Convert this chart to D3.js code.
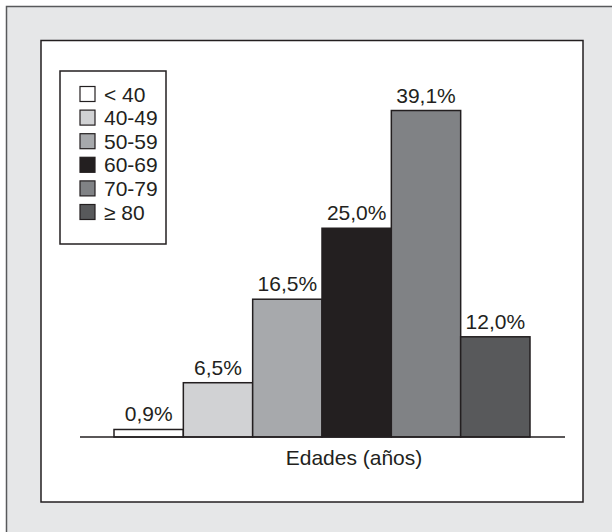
<!DOCTYPE html>
<html><head><meta charset="utf-8">
<script src="https://cdn.jsdelivr.net/npm/d3@7"></script>
<style>html,body{margin:0;padding:0;background:#fff;}svg{display:block;}</style>
</head><body>
<script>
const categories = ["< 40", "40-49", "50-59", "60-69", "70-79", "\u2265 80"];
const values = [0.9, 6.5, 16.5, 25.0, 39.1, 12.0];
const valueLabels = ["0,9%", "6,5%", "16,5%", "25,0%", "39,1%", "12,0%"];
const colors = ["#ffffff", "#d1d2d4", "#a7a9ac", "#231f20", "#808285", "#58595b"];
const xAxisTitle = "Edades (años)";

const W = 612, H = 532;
const font = "'Liberation Sans', Arial, Helvetica, sans-serif";
const svg = d3.select("body").append("svg").attr("width", W).attr("height", H);

// outer gray frame
svg.append("rect").attr("x", 6.5).attr("y", 6.5).attr("width", 620).attr("height", 540)
  .attr("fill", "#e6e7e8").attr("stroke", "#58595b").attr("stroke-width", 1.5);
// inner white panel
svg.append("rect").attr("x", 41).attr("y", 40.5).attr("width", 542).attr("height", 461.5)
  .attr("fill", "#ffffff").attr("stroke", "#231f20").attr("stroke-width", 1.5);

const x = d3.scaleBand().domain(categories).range([114, 530]).padding(0);
const y = d3.scaleLinear().domain([0, 40]).range([437, 103]);

// bars
svg.append("g").selectAll("rect").data(categories).join("rect")
  .attr("x", d => x(d))
  .attr("y", (d, i) => y(values[i]))
  .attr("width", x.bandwidth())
  .attr("height", (d, i) => y(0) - y(values[i]))
  .attr("fill", (d, i) => colors[i])
  .attr("stroke", "#231f20").attr("stroke-width", 1.5);

// baseline
svg.append("line").attr("x1", 80).attr("x2", 565).attr("y1", y(0)).attr("y2", y(0))
  .attr("stroke", "#231f20").attr("stroke-width", 1.5);

// value labels
svg.append("g").selectAll("text").data(categories).join("text")
  .attr("x", d => x(d) + x.bandwidth() / 2)
  .attr("y", (d, i) => y(values[i]) - 8)
  .attr("text-anchor", "middle")
  .attr("font-family", font).attr("font-size", 21).attr("fill", "#231f20")
  .text((d, i) => valueLabels[i]);

// axis title
svg.append("text").attr("x", 354).attr("y", 465).attr("text-anchor", "middle")
  .attr("font-family", font).attr("font-size", 21).attr("fill", "#231f20")
  .text(xAxisTitle);

// legend
const lg = svg.append("g");
lg.append("rect").attr("x", 60).attr("y", 71).attr("width", 106).attr("height", 173)
  .attr("fill", "#ffffff").attr("stroke", "#231f20").attr("stroke-width", 1.5);
const rows = lg.selectAll("g.item").data(categories).join("g").attr("class", "item")
  .attr("transform", (d, i) => `translate(0,${94 + i * 23.6})`);
rows.append("rect").attr("x", 80).attr("y", -7.5).attr("width", 15).attr("height", 15)
  .attr("fill", (d, i) => colors[i]).attr("stroke", "#231f20").attr("stroke-width", 1.2);
rows.append("text").attr("x", 104).attr("y", 7.5)
  .attr("font-family", font).attr("font-size", 21).attr("fill", "#231f20")
  .text(d => d);
</script>
</body></html>
